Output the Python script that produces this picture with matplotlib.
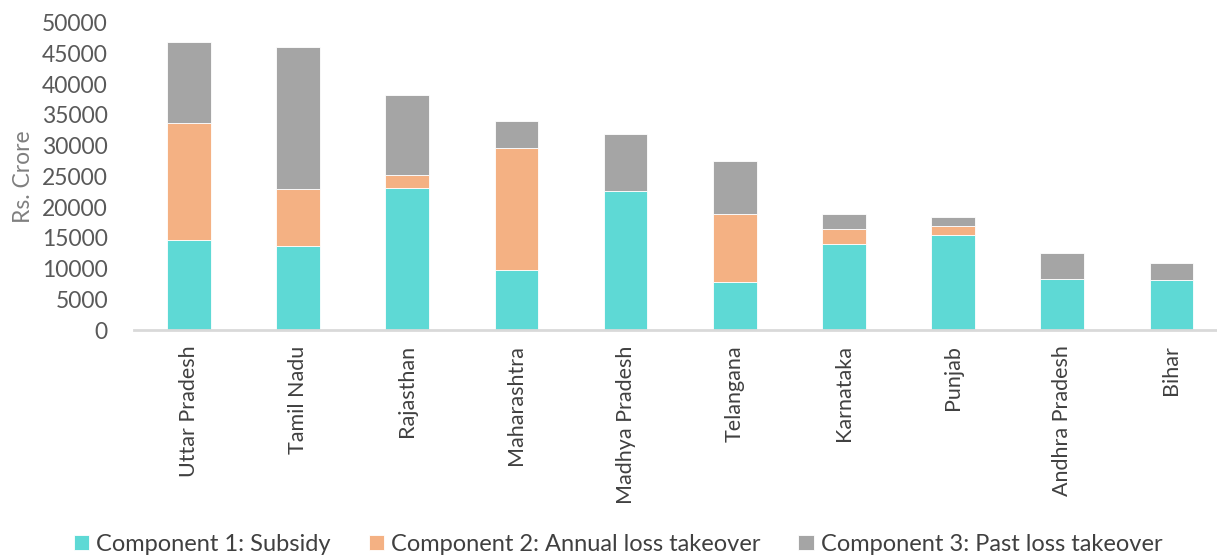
import matplotlib
matplotlib.use("Agg")
import matplotlib.pyplot as plt
import numpy as np

states = ["Uttar Pradesh", "Tamil Nadu", "Rajasthan", "Maharashtra", "Madhya Pradesh",
          "Telangana", "Karnataka", "Punjab", "Andhra Pradesh", "Bihar"]
subsidy = [14700, 13700, 23100, 9700, 22650, 7850, 13950, 15450, 8350, 8200]
annual_loss = [19000, 9200, 2050, 19850, 0, 11000, 2400, 1400, 0, 0]
past_loss = [13100, 23150, 13050, 4450, 9250, 8650, 2450, 1500, 4200, 2750]
series_names = ["Component 1: Subsidy", "Component 2: Annual loss takeover",
                "Component 3: Past loss takeover"]
yticks = [0, 5000, 10000, 15000, 20000, 25000, 30000, 35000, 40000, 45000, 50000]

colors = ["#5ED9D5", "#F4B183", "#A5A5A5"]
plt.rcParams["font.family"] = ["Lato", "DejaVu Sans"]

fig = plt.figure(figsize=(12.17, 5.57), dpi=100)
ax = fig.add_axes([0.1104, 0.4075, 0.897, 0.552])

x = np.arange(len(states))
s1 = np.array(subsidy)
s2 = np.array(annual_loss)
s3 = np.array(past_loss)
w = 0.4
h1 = ax.bar(x, s1, w, color=colors[0], edgecolor="white", linewidth=0.6, label=series_names[0])
h2 = ax.bar(x, s2, w, bottom=s1, color=colors[1], edgecolor="white", linewidth=0.6, label=series_names[1])
h3 = ax.bar(x, s3, w, bottom=s1 + s2, color=colors[2], edgecolor="white", linewidth=0.6, label=series_names[2])

ax.set_xlim(-0.5, len(states) - 0.5)
ax.set_ylim(0, 50000)
ax.set_yticks(yticks)
ax.set_yticklabels([str(v) for v in yticks], fontsize=16.5, color="#595959")
ax.set_xticks(x)
ax.set_xticklabels(states, rotation=90, fontsize=15.5, color="#404040")
ax.tick_params(axis="both", length=0)
ax.tick_params(axis="x", pad=11)
ax.tick_params(axis="y", pad=19)
for s in ["top", "right", "left"]:
    ax.spines[s].set_visible(False)
ax.spines["bottom"].set_color("#D9D9D9")
ax.spines["bottom"].set_linewidth(2)
ax.set_ylabel("Rs. Crore", fontsize=16.5, color="#7F7F7F", labelpad=6)

fig.legend(handles=[h1, h2, h3], loc="center", bbox_to_anchor=(0.508, 0.023), ncol=3,
           frameon=False, fontsize=17, handlelength=0.65, handleheight=0.65,
           handletextpad=0.3, columnspacing=1.6, labelcolor="#404040")

fig.savefig("out.png", dpi=100)
